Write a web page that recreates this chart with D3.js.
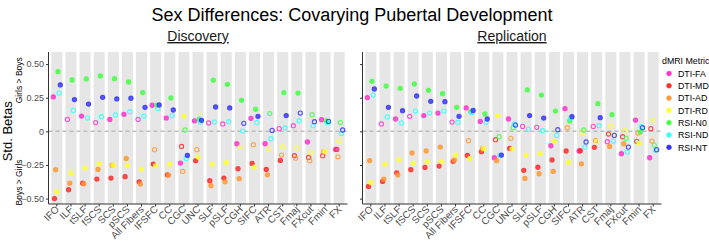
<!DOCTYPE html>
<html>
<head>
<meta charset="utf-8">
<script src="https://cdn.jsdelivr.net/npm/d3@7"></script>
<style>
    body { margin: 0; background: #fff; }
    svg text { font-family: "Liberation Sans", Arial, sans-serif; }
</style>
</head>
<body>
<div id="chart"></div>
<script>
// tracts and metrics
const tracts = ['IFO', 'ILF', 'tSLF', 'fSCS', 'SCS', 'pSCS', 'All Fibers', 'IFSFC', 'CC', 'CGC', 'UNC',
    'SLF', 'pSLF', 'CGH', 'SIFC', 'ATR', 'CST', 'Fmaj', 'FXcut', 'Fmin', 'FX'];
const metrics = ['DTI-FA', 'DTI-MD', 'DTI-AD', 'DTI-RD', 'RSI-N0', 'RSI-ND', 'RSI-NT'];
const panels = ['Discovery', 'Replication'];
const yTicks = [0.5, 0.25, 0, -0.25, -0.5];
const yTickLabels = ['0.50', '0.25', '0', '\u22120.25', '\u22120.50'];

// Discovery: std. betas per metric (tract order)
const discFA = [0.256, 0.089, 0.114, 0.065, 0.089, 0.127, 0.089, 0.194, 0.099, -0.236, 0.078, 0.062, 0.055, -0.092, 0.097, -0.092, 0.020, 0.042, -0.079, 0.087, -0.134];
const discMD = [-0.500, -0.434, -0.385, -0.355, -0.347, -0.337, -0.375, -0.243, -0.323, -0.112, -0.218, -0.367, -0.347, -0.278, -0.238, -0.283, -0.216, -0.181, -0.194, -0.181, -0.134];
const discAD = [-0.285, -0.385, -0.390, -0.283, -0.251, -0.201, -0.392, -0.136, -0.325, -0.298, -0.136, -0.404, -0.375, -0.352, -0.099, -0.323, -0.176, -0.199, -0.218, -0.151, -0.189];
const discRD = [-0.449, -0.308, -0.273, -0.243, -0.251, -0.253, -0.280, -0.256, -0.243, 0.114, -0.191, -0.243, -0.233, -0.119, -0.266, -0.132, -0.114, -0.122, -0.159, -0.149, -0.072];
const discN0 = [0.444, 0.382, 0.390, 0.412, 0.392, 0.367, 0.288, 0.194, 0.248, 0.010, 0.090, 0.380, 0.350, 0.231, 0.164, 0.132, 0.288, 0.285, 0.124, 0.077, 0.065];
const discND = [0.285, 0.156, 0.099, 0.109, 0.122, 0.146, 0.114, 0.169, 0.117, -0.201, 0.069, 0.069, 0.072, 0.002, 0.065, -0.055, 0.025, 0.079, 0.042, 0.065, -0.015];
const discNT = [0.345, 0.236, 0.203, 0.253, 0.241, 0.246, 0.179, 0.196, 0.159, -0.179, 0.082, 0.181, 0.174, 0.060, 0.112, 0.007, 0.117, 0.136, 0.072, 0.074, 0.010];

// Discovery: significant (1 = filled)
const discFAsig = [1, 0, 1, 0, 1, 1, 0, 1, 1, 1, 1, 0, 0, 1, 1, 1, 0, 0, 1, 1, 1];
const discMDsig = [1, 1, 1, 1, 1, 1, 1, 1, 1, 0, 1, 1, 1, 1, 1, 1, 1, 0, 0, 0, 0];
const discADsig = [1, 1, 1, 1, 1, 1, 1, 0, 1, 0, 0, 1, 1, 1, 0, 1, 0, 0, 0, 0, 0];
const discRDsig = [1, 1, 1, 1, 1, 1, 1, 1, 1, 1, 1, 1, 1, 0, 1, 0, 0, 0, 0, 1, 0];
const discN0sig = [1, 1, 1, 1, 1, 1, 1, 1, 1, 0, 1, 1, 1, 1, 1, 0, 1, 1, 0, 1, 0];
const discNDsig = [0, 0, 0, 0, 0, 0, 0, 0, 0, 0, 0, 0, 0, 0, 0, 0, 0, 0, 0, 0, 0];
const discNTsig = [1, 1, 1, 1, 1, 1, 1, 1, 1, 1, 1, 1, 1, 0, 1, 0, 1, 0, 0, 0, 0];

// Replication: std. betas per metric
const replFA = [0.251, 0.055, 0.092, 0.112, 0.117, 0.136, 0.069, 0.174, 0.074, -0.196, 0.092, 0.037, 0.030, -0.107, 0.169, -0.146, 0.037, -0.077, -0.166, 0.084, -0.196];
const replMD = [-0.409, -0.372, -0.308, -0.285, -0.268, -0.258, -0.223, -0.179, -0.151, -0.062, -0.127, -0.290, -0.266, -0.213, -0.146, -0.144, -0.119, -0.020, -0.040, -0.074, 0.020];
const replAD = [-0.218, -0.355, -0.325, -0.161, -0.146, -0.117, -0.213, -0.069, -0.129, -0.218, -0.052, -0.350, -0.315, -0.298, 0.027, -0.241, -0.067, -0.112, -0.092, -0.012, -0.072];
const replRD = [-0.380, -0.243, -0.211, -0.236, -0.226, -0.223, -0.176, -0.203, -0.129, 0.117, -0.132, -0.176, -0.164, -0.074, -0.231, -0.012, -0.077, 0.040, 0.005, -0.089, 0.084];
const replN0 = [0.372, 0.337, 0.320, 0.352, 0.305, 0.280, 0.179, 0.146, 0.129, -0.040, 0.027, 0.308, 0.270, 0.151, 0.077, 0.010, 0.206, 0.124, -0.052, -0.005, -0.102];
const replND = [0.270, 0.107, 0.062, 0.151, 0.136, 0.151, 0.067, 0.139, 0.067, -0.179, 0.055, 0.015, 0.005, -0.030, 0.097, -0.117, 0.042, -0.072, -0.154, 0.035, -0.141];
const replNT = [0.315, 0.179, 0.154, 0.263, 0.223, 0.221, 0.112, 0.156, 0.092, -0.176, 0.047, 0.117, 0.099, 0.012, 0.109, -0.079, 0.102, -0.030, -0.117, 0.027, -0.136];

const replFAsig = [1, 0, 1, 0, 1, 1, 0, 1, 1, 1, 1, 0, 0, 1, 1, 1, 0, 0, 1, 1, 1];
const replMDsig = [1, 1, 1, 1, 1, 1, 1, 1, 1, 0, 1, 1, 1, 1, 1, 1, 1, 0, 0, 0, 0];
const replADsig = [1, 1, 1, 1, 1, 1, 1, 0, 1, 1, 0, 1, 1, 1, 0, 1, 0, 1, 1, 0, 0];
const replRDsig = [1, 1, 1, 1, 1, 1, 1, 1, 1, 1, 1, 1, 1, 1, 1, 0, 0, 0, 0, 1, 0];
const replN0sig = [1, 1, 1, 1, 1, 1, 1, 1, 1, 0, 0, 1, 1, 1, 1, 0, 1, 1, 0, 1, 0];
const replNDsig = [0, 0, 0, 0, 0, 0, 0, 0, 0, 0, 0, 0, 0, 0, 0, 0, 0, 0, 0, 0, 0];
const replNTsig = [1, 1, 1, 1, 1, 1, 1, 1, 1, 1, 0, 1, 1, 0, 1, 0, 1, 0, 0, 0, 0];

const metricColors = ['#ff33cc', '#ff2a2a', '#ff9933', '#ffff33', '#44ff44', '#33ffff', '#3333ff'];

class FacetDotChart {
    constructor(containerId) {
        this.containerId = containerId;
        this.width = 709;
        this.height = 246;
        this.panelX = [[48.5, 347.5], [362.5, 661.5]];
        this.panelTop = 52;
        this.panelBottom = 204;
    }

    draw() {
        const svg = d3.select(`#${this.containerId}`)
            .append('svg')
            .attr('width', this.width)
            .attr('height', this.height);

        const rows = [
            [discFA, discMD, discAD, discRD, discN0, discND, discNT],
            [replFA, replMD, replAD, replRD, replN0, replND, replNT]
        ];
        const sigs = [
            [discFAsig, discMDsig, discADsig, discRDsig, discN0sig, discNDsig, discNTsig],
            [replFAsig, replMDsig, replADsig, replRDsig, replN0sig, replNDsig, replNTsig]
        ];

        const yScale = d3.scaleLinear()
            .domain([-0.54, 0.59])
            .range([this.panelBottom, this.panelTop]);

        const color = d3.scaleOrdinal().domain(metrics).range(metricColors);
        const dodge = d3.scalePoint().domain(metrics).range([-3.5, 3.5]);

        // タイトル
        svg.append('text')
            .attr('x', 352)
            .attr('y', 21)
            .attr('text-anchor', 'middle')
            .attr('fill', '#000')
            .style('font-size', '18px')
            .text('Sex Differences: Covarying Pubertal Development');

        panels.forEach((name, p) => {
            const [x0, x1] = this.panelX[p];
            const xScale = d3.scaleBand()
                .domain(tracts)
                .range([x0, x1])
                .paddingInner(0.22)
                .paddingOuter(0.2);
            const g = svg.append('g');

            // strip title
            g.append('text')
                .attr('x', (x0 + x1) / 2)
                .attr('y', 41)
                .attr('text-anchor', 'middle')
                .attr('fill', '#1a1a1a')
                .style('font-size', '14px')
                .style('text-decoration', 'underline')
                .text(name);

            // gray bands
            g.selectAll('rect.band')
                .data(tracts)
                .enter()
                .append('rect')
                .attr('class', 'band')
                .attr('x', d => xScale(d))
                .attr('y', this.panelTop)
                .attr('width', xScale.bandwidth())
                .attr('height', this.panelBottom - this.panelTop)
                .attr('fill', '#e6e6e6');

            // zero line
            g.append('line')
                .attr('x1', x0)
                .attr('x2', x1)
                .attr('y1', yScale(0))
                .attr('y2', yScale(0))
                .attr('stroke', '#bdbdbd')
                .attr('stroke-width', 1.5)
                .attr('stroke-dasharray', '4,3');

            // points
            const points = [];
            metrics.forEach((m, k) => {
                tracts.forEach((t, i) => {
                    points.push({ tract: t, metric: m, value: rows[p][k][i], sig: sigs[p][k][i] });
                });
            });

            g.selectAll('circle.pt')
                .data(points)
                .enter()
                .append('circle')
                .attr('class', 'pt')
                .attr('cx', d => xScale(d.tract) + xScale.bandwidth() / 2 + dodge(d.metric))
                .attr('cy', d => yScale(d.value))
                .attr('r', 2.1)
                .attr('fill', d => d.sig ? color(d.metric) : 'none')
                .attr('fill-opacity', 0.8)
                .attr('stroke', d => color(d.metric))
                .attr('stroke-opacity', 0.85)
                .attr('stroke-width', 1.1);

            // axes
            const xAxis = d3.axisBottom(xScale).tickSize(2.5).tickSizeOuter(0);
            const xg = g.append('g')
                .attr('transform', `translate(0,${this.panelBottom})`)
                .call(xAxis);
            xg.select('.domain').attr('stroke', '#333').attr('d', `M${x0},0H${x1}`);
            xg.selectAll('.tick line').attr('stroke', '#333');
            xg.selectAll('.tick text')
                .attr('fill', '#4d4d4d')
                .style('font-size', '10px')
                .attr('text-anchor', 'end')
                .attr('dy', null)
                .attr('y', 0)
                .attr('transform', 'translate(3,6) rotate(-45)');

            const yAxis = d3.axisLeft(yScale)
                .tickValues(yTicks)
                .tickSize(2.5)
                .tickSizeOuter(0)
                .tickFormat((d, i) => p === 0 ? yTickLabels[i] : '');
            const yg = g.append('g')
                .attr('transform', `translate(${x0},0)`)
                .call(yAxis);
            yg.select('.domain').attr('stroke', '#333').attr('d', `M0,${this.panelTop}V${this.panelBottom}`);
            yg.selectAll('.tick line').attr('stroke', '#333');
            yg.selectAll('.tick text')
                .attr('fill', '#4d4d4d')
                .attr('x', -4.5)
                .style('font-size', '9px');
        });

        // y labels
        svg.append('text')
            .attr('transform', `translate(12,${yScale(0)}) rotate(-90)`)
            .attr('text-anchor', 'middle')
            .attr('fill', '#000')
            .style('font-size', '13px')
            .text('Std. Betas');

        svg.append('text')
            .attr('transform', `translate(22,${yScale(0.38)}) rotate(-90)`)
            .attr('text-anchor', 'middle')
            .attr('fill', '#000')
            .style('font-size', '8.5px')
            .text('Girls > Boys');

        svg.append('text')
            .attr('transform', `translate(22,${yScale(-0.38)}) rotate(-90)`)
            .attr('text-anchor', 'middle')
            .attr('fill', '#000')
            .style('font-size', '8.5px')
            .text('Boys > Girls');

        // 凡例
        const legend = svg.append('g')
            .attr('transform', 'translate(662, 64)');

        legend.append('text')
            .attr('x', 0)
            .attr('y', 0)
            .attr('fill', '#000')
            .style('font-size', '8.8px')
            .text('dMRI Metric');

        metrics.forEach((m, i) => {
            const item = legend.append('g')
                .attr('transform', `translate(0, ${9.5 + i * 12.3})`);

            item.append('circle')
                .attr('cx', 7)
                .attr('cy', 0)
                .attr('r', 2.3)
                .attr('fill', color(m))
                .attr('stroke', color(m))
                .attr('stroke-width', 0.8);

            item.append('text')
                .attr('x', 16)
                .attr('y', 3.2)
                .attr('fill', '#000')
                .style('font-size', '8.8px')
                .text(m);
        });
    }
}

new FacetDotChart('chart').draw();
</script>
</body>
</html>
